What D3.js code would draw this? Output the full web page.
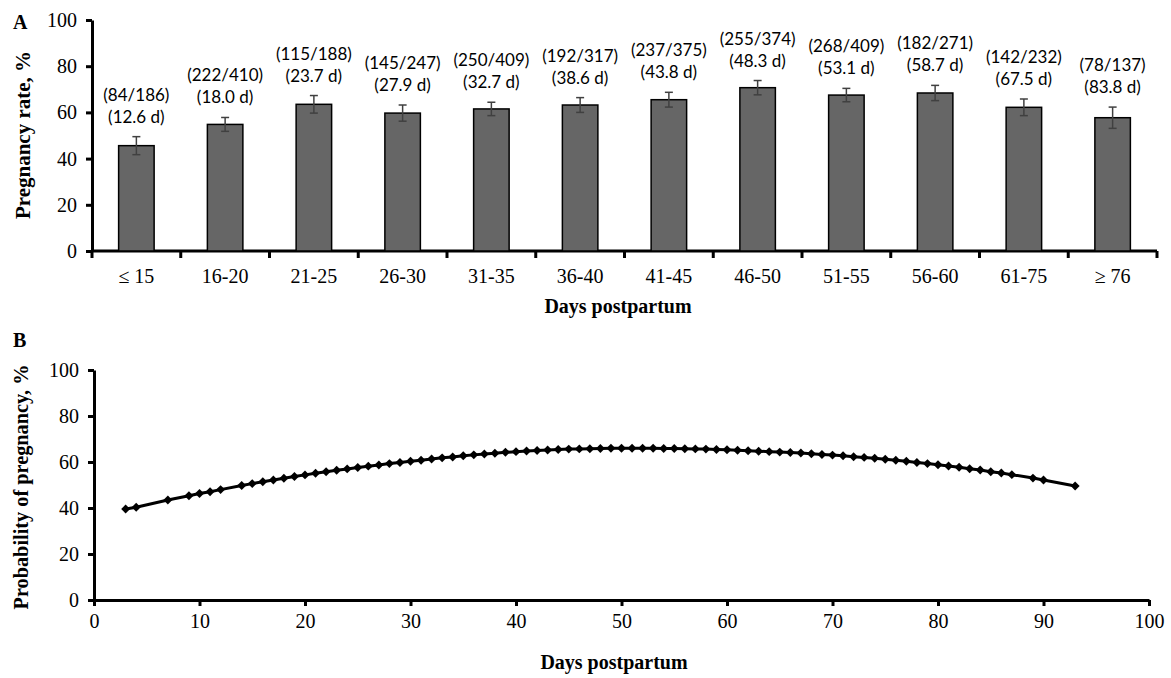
<body style="margin:0;background:#fff">
<svg id="chart" width="1171" height="678"></svg>
<script src="https://d3js.org/d3.v7.min.js"></script>
<script>
    // panel A data: pregnancy rate by days-postpartum class
    const categories = ["≤ 15", "16-20", "21-25", "26-30", "31-35", "36-40", "41-45", "46-50", "51-55", "56-60", "61-75", "≥ 76"];
    const rates = [45.6, 54.8, 63.5, 59.7, 61.5, 63.2, 65.5, 70.7, 67.5, 68.4, 62.2, 57.7];
    const errors = [3.9, 3.0, 3.8, 3.5, 2.9, 3.2, 3.2, 3.1, 2.9, 3.3, 3.6, 4.6];
    const counts = ["(84/186)", "(222/410)", "(115/188)", "(145/247)", "(250/409)", "(192/317)", "(237/375)", "(255/374)", "(268/409)", "(182/271)", "(142/232)", "(78/137)"];
    const meanDays = ["(12.6 d)", "(18.0 d)", "(23.7 d)", "(27.9 d)", "(32.7 d)", "(38.6 d)", "(43.8 d)", "(48.3 d)", "(53.1 d)", "(58.7 d)", "(67.5 d)", "(83.8 d)"];
    const yTicks = [0, 20, 40, 60, 80, 100];

    // panel B data: fitted probability of pregnancy
    const days = [3, 4, 7, 9, 10, 11, 12, 14, 15, 16, 17, 18, 19, 20, 21, 22, 23, 24, 25, 26, 27, 28, 29, 30,
        31, 32, 33, 34, 35, 36, 37, 38, 39, 40, 41, 42, 43, 44, 45, 46, 47, 48, 49, 50, 51, 52, 53, 54, 55, 56,
        57, 58, 59, 60, 61, 62, 63, 64, 65, 66, 67, 68, 69, 70, 71, 72, 73, 74, 75, 76, 77, 78, 79, 80, 81, 82,
        83, 84, 85, 86, 87, 89, 90, 93];
    const probability = [39.6, 40.3, 43.5, 45.3, 46.3, 47.1, 48.0, 49.8, 50.6, 51.4, 52.2, 52.9, 53.7, 54.4, 55.1, 55.8, 56.4, 57.0, 57.6, 58.2, 58.7, 59.3, 59.8, 60.3,
        60.8, 61.3, 61.8, 62.2, 62.7, 63.1, 63.5, 63.8, 64.2, 64.5, 64.8, 65.0, 65.2, 65.4, 65.6, 65.7, 65.8, 65.9, 66.0, 66.0, 66.0, 66.0, 66.0, 65.9, 65.9, 65.8,
        65.7, 65.6, 65.4, 65.3, 65.1, 64.9, 64.7, 64.5, 64.3, 64.1, 63.9, 63.6, 63.3, 63.0, 62.7, 62.3, 62.0, 61.6, 61.2, 60.8, 60.3, 59.8, 59.3, 58.8, 58.3, 57.7,
        57.1, 56.5, 55.8, 55.2, 54.5, 53.0, 52.2, 49.6];
    const xTicksB = [0, 10, 20, 30, 40, 50, 60, 70, 80, 90, 100];

    const svg = d3.select("#chart");
    const serif = "'Liberation Serif', 'Times New Roman', serif";

    function styleAxis(g) {
        g.selectAll("path.domain").attr("stroke", "#000").attr("stroke-width", 3);
        g.selectAll(".tick line").attr("stroke", "#000").attr("stroke-width", 3);
        g.selectAll("text").attr("font-family", serif).attr("font-size", 20).attr("fill", "#000");
    }

    // ---------- panel A ----------
    const xA = d3.scaleBand().domain(categories).range([92, 1157]).paddingInner(0.6).paddingOuter(0.3);
    const yA = d3.scaleLinear().domain([0, 100]).range([251, 20]);

    svg.append("g").attr("transform", "translate(92,0)")
        .call(d3.axisLeft(yA).tickValues(yTicks).tickSize(6).tickPadding(9).tickSizeOuter(0))
        .call(styleAxis);

    const bandW = (1157 - 92) / categories.length;
    const xAxisA = svg.append("g").attr("transform", "translate(0,251)");
    xAxisA.append("line").attr("x1", 92).attr("x2", 1157).attr("stroke", "#000").attr("stroke-width", 3);
    xAxisA.selectAll(".sep").data(d3.range(categories.length + 1)).join("line")
        .attr("x1", i => 92 + i * bandW).attr("x2", i => 92 + i * bandW)
        .attr("y1", 0).attr("y2", 7).attr("stroke", "#000").attr("stroke-width", 3);
    xAxisA.selectAll(".cat").data(categories).join("text")
        .attr("x", d => xA(d) + xA.bandwidth() / 2).attr("y", 32)
        .attr("text-anchor", "middle").attr("font-family", serif).attr("font-size", 20)
        .text(d => d);

    svg.selectAll(".bar").data(rates).join("rect")
        .attr("x", (d, i) => xA(categories[i]))
        .attr("y", d => yA(d))
        .attr("width", xA.bandwidth())
        .attr("height", d => yA(0) - yA(d))
        .attr("fill", "#666666").attr("stroke", "#000").attr("stroke-width", 1.5);

    const err = svg.append("g").attr("stroke", "#404040").attr("stroke-width", 1.5);
    rates.forEach((v, i) => {
        const cx = xA(categories[i]) + xA.bandwidth() / 2;
        err.append("line").attr("x1", cx).attr("x2", cx).attr("y1", yA(v + errors[i])).attr("y2", yA(v - errors[i]));
        err.append("line").attr("x1", cx - 4).attr("x2", cx + 4).attr("y1", yA(v + errors[i])).attr("y2", yA(v + errors[i]));
        err.append("line").attr("x1", cx - 4).attr("x2", cx + 4).attr("y1", yA(v - errors[i])).attr("y2", yA(v - errors[i]));
    });

    const lab = svg.append("g").attr("font-family", "Lato, 'Open Sans', sans-serif").attr("font-size", 17)
        .attr("text-anchor", "middle").attr("fill", "#000");
    rates.forEach((v, i) => {
        const cx = xA(categories[i]) + xA.bandwidth() / 2;
        const top = yA(v + errors[i]);
        lab.append("text").attr("x", cx).attr("y", top - 36).text(counts[i]);
        lab.append("text").attr("x", cx).attr("y", top - 14).text(meanDays[i]);
    });

    svg.append("text").attr("x", 13).attr("y", 29).attr("font-family", serif).attr("font-weight", "bold")
        .attr("font-size", 20).text("A");
    svg.append("text").attr("transform", "translate(30,135) rotate(-90)").attr("text-anchor", "middle")
        .attr("font-family", serif).attr("font-weight", "bold").attr("font-size", 21)
        .text("Pregnancy rate, %");
    svg.append("text").attr("x", 618).attr("y", 313).attr("text-anchor", "middle")
        .attr("font-family", serif).attr("font-weight", "bold").attr("font-size", 20).text("Days postpartum");

    // ---------- panel B ----------
    const xB = d3.scaleLinear().domain([0, 100]).range([94, 1149]);
    const yB = d3.scaleLinear().domain([0, 100]).range([600, 370]);

    svg.append("g").attr("transform", "translate(94,0)")
        .call(d3.axisLeft(yB).tickValues(yTicks).tickSize(6).tickPadding(9).tickSizeOuter(0))
        .call(styleAxis);
    svg.append("g").attr("transform", "translate(0,600)")
        .call(d3.axisBottom(xB).tickValues(xTicksB).tickSize(6).tickPadding(8).tickSizeOuter(0))
        .call(styleAxis);

    const pts = days.map((d, i) => [d, probability[i]]);
    svg.append("path").datum(pts)
        .attr("fill", "none").attr("stroke", "#000").attr("stroke-width", 3)
        .attr("d", d3.line().x(d => xB(d[0])).y(d => yB(d[1])));
    svg.selectAll(".pt").data(pts).join("path")
        .attr("transform", d => `translate(${xB(d[0])},${yB(d[1])}) rotate(45)`)
        .attr("d", d3.symbol(d3.symbolSquare, 40))
        .attr("fill", "#000");

    svg.append("text").attr("x", 13).attr("y", 347).attr("font-family", serif).attr("font-weight", "bold")
        .attr("font-size", 20).text("B");
    svg.append("text").attr("transform", "translate(28,487) rotate(-90)").attr("text-anchor", "middle")
        .attr("font-family", serif).attr("font-weight", "bold").attr("font-size", 20)
        .attr("textLength", 245).attr("lengthAdjust", "spacingAndGlyphs")
        .text("Probability of pregnancy, %");
    svg.append("text").attr("x", 614).attr("y", 669).attr("text-anchor", "middle")
        .attr("font-family", serif).attr("font-weight", "bold").attr("font-size", 20).text("Days postpartum");
</script>
</body>
